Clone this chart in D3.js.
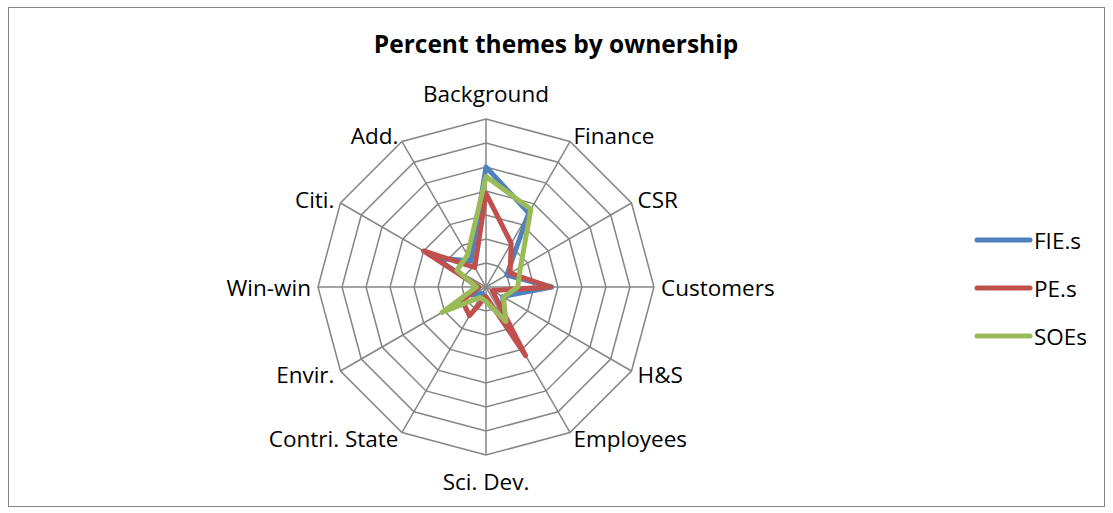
<!DOCTYPE html>
<html>
<head>
<meta charset="utf-8">
<script src="https://cdn.jsdelivr.net/npm/d3@7"></script>
<style>
  html, body { margin: 0; padding: 0; background: #fff; }
  svg { display: block; }
  text { font-family: "Open Sans", "Liberation Sans", sans-serif; fill: #000; }
</style>
</head>
<body>
<svg id="chart" width="1113" height="513"></svg>
<script>
// Theme categories, clockwise from the top
const categories = ["Background", "Finance", "CSR", "Customers", "H&S", "Employees",
  "Sci. Dev.", "Contri. State", "Envir.", "Win-win", "Citi.", "Add."];

// Share of each theme per ownership type
const fieValues = [0.250, 0.178, 0.050, 0.137, 0.040, 0.080, 0.030, 0.015, 0.034, 0.015, 0.120, 0.063];
const peValues  = [0.195, 0.105, 0.058, 0.134, 0.015, 0.165, 0.020, 0.069, 0.057, 0.015, 0.150, 0.047];
const soeValues = [0.230, 0.187, 0.083, 0.066, 0.042, 0.083, 0.030, 0.025, 0.106, 0.020, 0.070, 0.077];

const seriesNames = ["FIE.s", "PE.s", "SOEs"];
const seriesColors = ["#4F81BD", "#C0504D", "#9BBB59"];

// Radial gridline values
const ringTicks = [0.05, 0.10, 0.15, 0.20, 0.25, 0.30, 0.35];

const series = [fieValues, peValues, soeValues].map((values, i) => ({
  name: seriesNames[i], color: seriesColors[i], values
}));

const svg = d3.select("#chart");
const cx = 486, cy = 287, R = 168;

// Chart frame
svg.append("rect")
  .attr("x", 8.5).attr("y", 7.5)
  .attr("width", 1096).attr("height", 499)
  .attr("fill", "#fff")
  .attr("stroke", "#868686").attr("stroke-width", 1);

// Title
svg.append("text")
  .attr("x", 556).attr("y", 53)
  .attr("text-anchor", "middle")
  .style("font-weight", "bold")
  .style("font-size", "24.5px")
  .text("Percent themes by ownership");

const r = d3.scaleLinear().domain([0, d3.max(ringTicks)]).range([0, R]);
const angle = d3.scaleLinear().domain([0, categories.length]).range([0, 2 * Math.PI]);

const g = svg.append("g").attr("transform", `translate(${cx},${cy})`);

// Ring polygons
const ringLine = d3.lineRadial()
  .angle((d, i) => angle(i))
  .radius(d => r(d))
  .curve(d3.curveLinearClosed);

g.append("g").selectAll("path")
  .data(ringTicks)
  .join("path")
  .attr("d", t => ringLine(categories.map(() => t)))
  .attr("fill", "none")
  .attr("stroke", "#868686")
  .attr("stroke-width", 1.5);

// Spokes
g.append("g").selectAll("line")
  .data(categories)
  .join("line")
  .attr("x1", 0).attr("y1", 0)
  .attr("x2", (d, i) => r(d3.max(ringTicks)) * Math.sin(angle(i)))
  .attr("y2", (d, i) => -r(d3.max(ringTicks)) * Math.cos(angle(i)))
  .attr("stroke", "#868686")
  .attr("stroke-width", 1.5);

// Category labels
const labelR = R + 7;
g.append("g").selectAll("text")
  .data(categories)
  .join("text")
  .attr("x", (d, i) => labelR * Math.sin(angle(i)))
  .attr("y", (d, i) => {
    const c = Math.cos(angle(i));
    let y = -labelR * c;
    if (Math.abs(c) > 0.99) y -= c * 19;
    return y;
  })
  .attr("text-anchor", (d, i) => {
    const s = Math.sin(angle(i));
    return s > 0.01 ? "start" : (s < -0.01 ? "end" : "middle");
  })
  .attr("dominant-baseline", "central")
  .style("font-size", "22.5px")
  .text(d => d);

// Series outlines
const seriesLine = d3.lineRadial()
  .angle((d, i) => angle(i))
  .radius(d => r(d))
  .curve(d3.curveLinearClosed);

g.append("g").selectAll("path")
  .data(series)
  .join("path")
  .attr("d", s => seriesLine(s.values))
  .attr("fill", "none")
  .attr("stroke", s => s.color)
  .attr("stroke-width", 5)
  .attr("stroke-linejoin", "round")
  .attr("stroke-linecap", "round");

// Legend
const legend = svg.append("g");
const legendY = d3.scalePoint().domain(seriesNames).range([240, 336]);
const items = legend.selectAll("g")
  .data(series)
  .join("g")
  .attr("transform", s => `translate(0,${legendY(s.name)})`);
items.append("line")
  .attr("x1", 977).attr("x2", 1030)
  .attr("stroke", s => s.color)
  .attr("stroke-width", 5)
  .attr("stroke-linecap", "round");
items.append("text")
  .attr("x", 1034).attr("y", 0)
  .attr("dominant-baseline", "central")
  .style("font-size", "22.5px")
  .text(s => s.name);
</script>
</body>
</html>
